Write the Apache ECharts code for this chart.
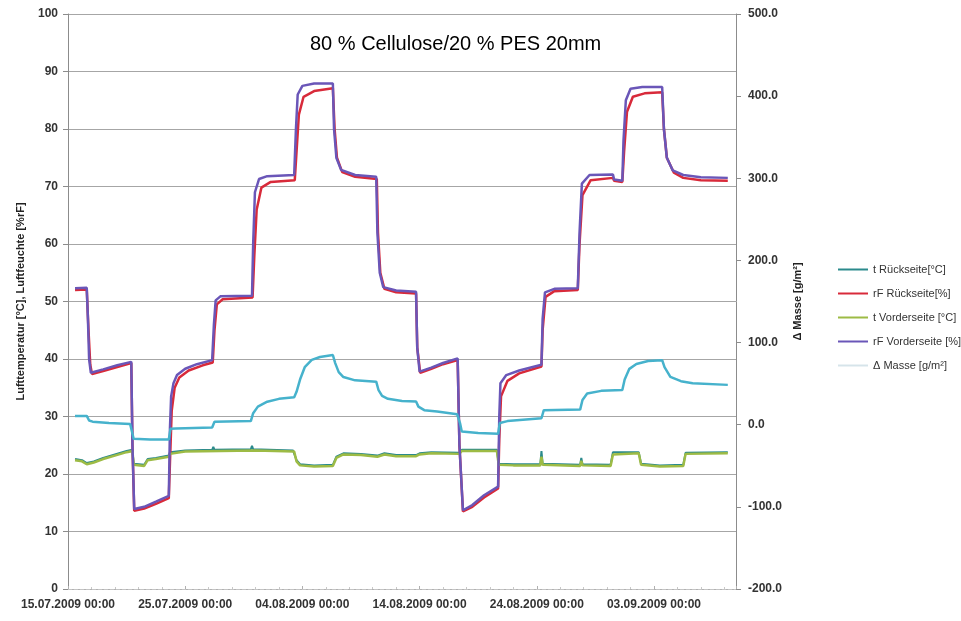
<!DOCTYPE html>
<html>
<head>
<meta charset="utf-8">
<script src="https://cdn.jsdelivr.net/npm/echarts@6/dist/echarts.min.js"></script>
<style>html,body{margin:0;padding:0;background:#fff}#c{width:961px;height:621px}</style>
</head>
<body>
<div id="c"></div>
<script>
// x values: days after 15.07.2009 00:00
const startDate = [2009, 6, 15];
const xTickDays = [0, 10, 20, 30, 40, 50];
const seriesNames = ['t Rückseite[°C]', 'rF Rückseite[%]', 't Vorderseite [°C]', 'rF Vorderseite [%]', 'Δ Masse [g/m²]'];

const tRueckseite = [[0.6,22.6],[1.2,22.4],[1.6,21.9],[2.2,22.2],[3,22.8],[4,23.4],[5,24],[5.5,24.2],[5.6,21.8],[6.5,21.6],[6.8,22.6],[7.5,22.8],[8.6,23.2],[8.7,23.8],[10,24.1],[12.3,24.2],[12.4,24.7],[12.5,24.2],[15.6,24.3],[15.7,24.9],[15.8,24.3],[19.2,24.1],[19.3,24.4],[19.5,22.4],[19.8,21.7],[21,21.5],[22.6,21.6],[22.9,23],[23.5,23.6],[25,23.5],[26.4,23.2],[27,23.6],[28,23.3],[29.7,23.3],[30,23.6],[31,23.8],[33.4,23.7],[33.6,24.2],[36.6,24.2],[36.75,21.8],[38,21.7],[40.3,21.7],[40.4,24],[40.5,21.8],[43.7,21.6],[43.8,22.8],[43.9,21.7],[46.3,21.6],[46.5,23.8],[48.7,23.8],[48.9,21.8],[50.5,21.5],[52.5,21.6],[52.7,23.7],[56.3,23.8]];

const rfRueckseite = [[0.6,52.0],[1.6,52.1],[1.75,45],[1.9,39],[2.05,37.4],[3,37.9],[4.2,38.6],[5.4,39.3],[5.5,25],[5.65,13.6],[6.5,14.0],[7.5,14.8],[8.6,15.8],[8.7,22],[8.85,31],[9.1,35],[9.5,36.8],[10.3,38],[11.5,38.9],[12.35,39.4],[12.5,45],[12.7,49.5],[13.2,50.4],[15.75,50.7],[15.9,58],[16.1,66],[16.5,69.8],[17.3,70.8],[19.35,71.1],[19.5,76],[19.7,82.5],[20.1,85.6],[21,86.6],[22.6,87.1],[22.75,80],[22.95,75],[23.4,72.5],[24.5,71.7],[26.35,71.3],[26.45,62],[26.65,55],[27,52.2],[28,51.6],[29.7,51.4],[29.8,42],[30.05,37.6],[31,38.3],[32,39.1],[33.25,39.8],[33.4,25],[33.7,13.5],[34.5,14.3],[35.5,15.9],[36.7,17.5],[36.8,26],[36.95,33.5],[37.5,36.2],[38.5,37.5],[40.4,38.7],[40.5,45],[40.75,50.8],[41.5,51.8],[43.5,52.0],[43.65,60],[43.9,68.5],[44.6,71.1],[46.5,71.5],[46.6,71.0],[47.3,70.8],[47.45,76],[47.7,83],[48.2,85.6],[49.2,86.2],[50.7,86.4],[50.85,80],[51.1,75],[51.7,72.4],[52.5,71.5],[54,71.1],[56.3,71.0]];

const tVorderseite = [[0.6,22.4],[1.2,22.2],[1.6,21.7],[2.2,22],[3,22.6],[4,23.2],[5,23.8],[5.5,24],[5.6,21.6],[6.5,21.4],[6.8,22.4],[7.5,22.6],[8.6,23],[8.7,23.5],[10,23.9],[13,24],[16,24.1],[19.3,23.9],[19.5,22.2],[19.8,21.5],[21,21.3],[22.6,21.4],[22.9,22.8],[23.5,23.4],[25,23.3],[26.4,23],[27,23.4],[28,23.1],[29.7,23.1],[30,23.4],[31,23.6],[33.4,23.5],[33.6,24],[36.6,24],[36.75,21.6],[38,21.5],[40.3,21.5],[40.4,23],[40.5,21.6],[43.7,21.4],[43.8,22.3],[43.9,21.5],[46.3,21.4],[46.5,23.4],[48.7,23.6],[48.9,21.6],[50.5,21.3],[52.5,21.4],[52.7,23.5],[56.3,23.6]];

const rfVorderseite = [[0.6,52.3],[1.6,52.4],[1.7,47],[1.8,40],[1.95,37.6],[3,38.2],[4.2,38.9],[5.4,39.5],[5.5,25],[5.65,13.9],[6.5,14.3],[7.5,15.2],[8.6,16.2],[8.7,28],[8.8,33.5],[9.0,35.8],[9.3,37.2],[10,38.3],[11,39.1],[12.3,39.8],[12.45,46],[12.6,50.2],[13,50.9],[15.7,51],[15.8,60],[15.95,69],[16.3,71.3],[17,71.8],[19.3,72],[19.45,80],[19.6,86],[20,87.5],[21,87.9],[22.6,87.9],[22.7,80],[22.9,75],[23.3,72.9],[24.5,72],[26.3,71.7],[26.4,62],[26.6,55],[26.9,52.5],[28,51.9],[29.7,51.7],[29.8,42],[30,37.8],[31,38.5],[32,39.3],[33.25,40.1],[33.4,25],[33.7,13.7],[34.5,14.6],[35.5,16.3],[36.7,17.8],[36.8,30],[36.9,35.8],[37.4,37.2],[38.5,38],[40.4,39],[40.5,47],[40.7,51.6],[41.5,52.2],[43.5,52.3],[43.65,62],[43.85,70.5],[44.5,72],[46.5,72.1],[46.6,71.2],[47.3,71.0],[47.4,78],[47.6,85],[48,87],[49,87.3],[50.7,87.3],[50.85,80],[51.1,75],[51.6,72.8],[52.5,72],[54,71.6],[56.3,71.5]];

const deltaMasse = [[0.6,10.7],[1.6,10.7],[1.8,5.1],[2.1,3.7],[3.5,2],[5.3,0.9],[5.45,-8],[5.6,-17.2],[7,-17.9],[8.6,-18],[8.75,-5],[9.2,-4.7],[12.3,-3.3],[12.5,3.7],[15.6,4.4],[15.8,14],[16.2,22],[17,28],[18,31.5],[19.3,33.5],[19.5,40],[19.8,55],[20.2,70],[20.8,79],[21.5,82.5],[22.6,84.9],[22.8,75],[23.1,64],[23.5,58],[24.5,54],[26.3,52.4],[26.5,42],[26.8,35],[27.3,31.5],[28.5,29],[29.7,28.2],[29.9,22],[30.4,17.7],[31.5,16],[33.2,12.8],[33.45,2],[33.6,-8.2],[35,-10],[36.7,-11],[36.85,2],[37.5,4.4],[40.4,7.9],[40.6,17.7],[43.7,18.4],[43.9,30],[44.3,38],[45.5,41.2],[47.3,42.2],[47.5,55],[47.9,68],[48.5,74],[49.5,77.5],[50.7,78.6],[50.9,70],[51.4,58.3],[52.3,53],[53.3,50.6],[56.3,48.5]];

const leftTicks = [0, 100, 10];
const rightTicks = [-200, 500, 100];

const colors = ['#2b8a8c', '#d82a3a', '#9dbb45', '#6a56b8', '#46b2cc'];
const font = 'Liberation Sans, Arial, sans-serif';

function pad(n){return (n<10?'0':'')+n;}
function dayLabel(d){
  const dt = new Date(startDate[0], startDate[1], startDate[2] + d);
  return pad(dt.getDate())+'.'+pad(dt.getMonth()+1)+'.'+dt.getFullYear()+' 00:00';
}

const chart = echarts.init(document.getElementById('c'), null, {renderer:'canvas'});
const dataSets = [tRueckseite, rfRueckseite, tVorderseite, rfVorderseite, deltaMasse];
const widths = [2, 2.5, 2.5, 2.5, 2.5];

chart.setOption({
  animation: false,
  backgroundColor: '#fff',
  title: {
    text: '80 % Cellulose/20 % PES 20mm',
    left: 305, top: 29,
    textStyle: {fontFamily: font, fontSize: 20, fontWeight: 'normal', color: '#000'}
  },
  legend: {
    orient: 'vertical', left: 833, top: 259,
    itemWidth: 30, itemHeight: 10, itemGap: 13,
    icon: 'path://M0,4 L30,4 L30,6 L0,6 Z',
    textStyle: {fontFamily: font, fontSize: 11, color: '#333'},
    data: seriesNames.map((n, i) => i === 4 ? {name: n, itemStyle: {color: '#d6e4ea'}} : {name: n})
  },
  grid: {left: 68, right: 225, top: 14, bottom: 32},
  xAxis: {
    type: 'value', min: 0, max: 57, interval: 10,
    axisLine: {show: true, onZero: false, lineStyle: {color: '#c4c4c4', width: 1, type: 'dashed'}},
    axisTick: {show: true, length: 3, inside: true, lineStyle: {color: '#b0b0b0'}},
    minorTick: {show: true, splitNumber: 5, length: 2, lineStyle: {color: '#c8c8c8'}},
    splitLine: {show: false},
    axisLabel: {
      formatter: v => dayLabel(v), showMaxLabel: false, margin: 10,
      fontFamily: font, fontSize: 12, fontWeight: 'bold', color: '#333'
    }
  },
  yAxis: [
    {
      type: 'value', min: leftTicks[0], max: leftTicks[1], interval: leftTicks[2],
      name: 'Lufttemperatur [°C], Luftfeuchte [%rF]',
      nameLocation: 'middle', nameGap: 42,
      nameTextStyle: {fontFamily: font, fontSize: 11, fontWeight: 'bold', color: '#222'},
      axisLine: {show: true, lineStyle: {color: '#8c8c8c'}},
      axisTick: {show: true, length: 5, lineStyle: {color: '#8c8c8c'}},
      splitLine: {show: true, lineStyle: {color: '#a6a6a6', width: 1}},
      axisLabel: {margin: 10, fontFamily: font, fontSize: 12, fontWeight: 'bold', color: '#333'}
    },
    {
      type: 'value', min: rightTicks[0], max: rightTicks[1], interval: rightTicks[2],
      name: 'Δ Masse [g/m²]',
      nameLocation: 'middle', nameGap: 52, nameRotate: 90,
      nameTextStyle: {fontFamily: font, fontSize: 11, fontWeight: 'bold', color: '#222', verticalAlign: 'bottom'},
      axisLine: {show: true, lineStyle: {color: '#8c8c8c'}},
      axisTick: {show: true, length: 5, lineStyle: {color: '#8c8c8c'}},
      splitLine: {show: false},
      axisLabel: {margin: 12, formatter: v => v.toFixed(1), fontFamily: font, fontSize: 12, fontWeight: 'bold', color: '#333'}
    }
  ],
  series: dataSets.map((d, i) => ({
    name: seriesNames[i],
    type: 'line',
    yAxisIndex: i === 4 ? 1 : 0,
    data: d,
    showSymbol: false,
    smooth: false,
    color: colors[i],
    lineStyle: {color: colors[i], width: widths[i]}
  }))
});
</script>
</body>
</html>
